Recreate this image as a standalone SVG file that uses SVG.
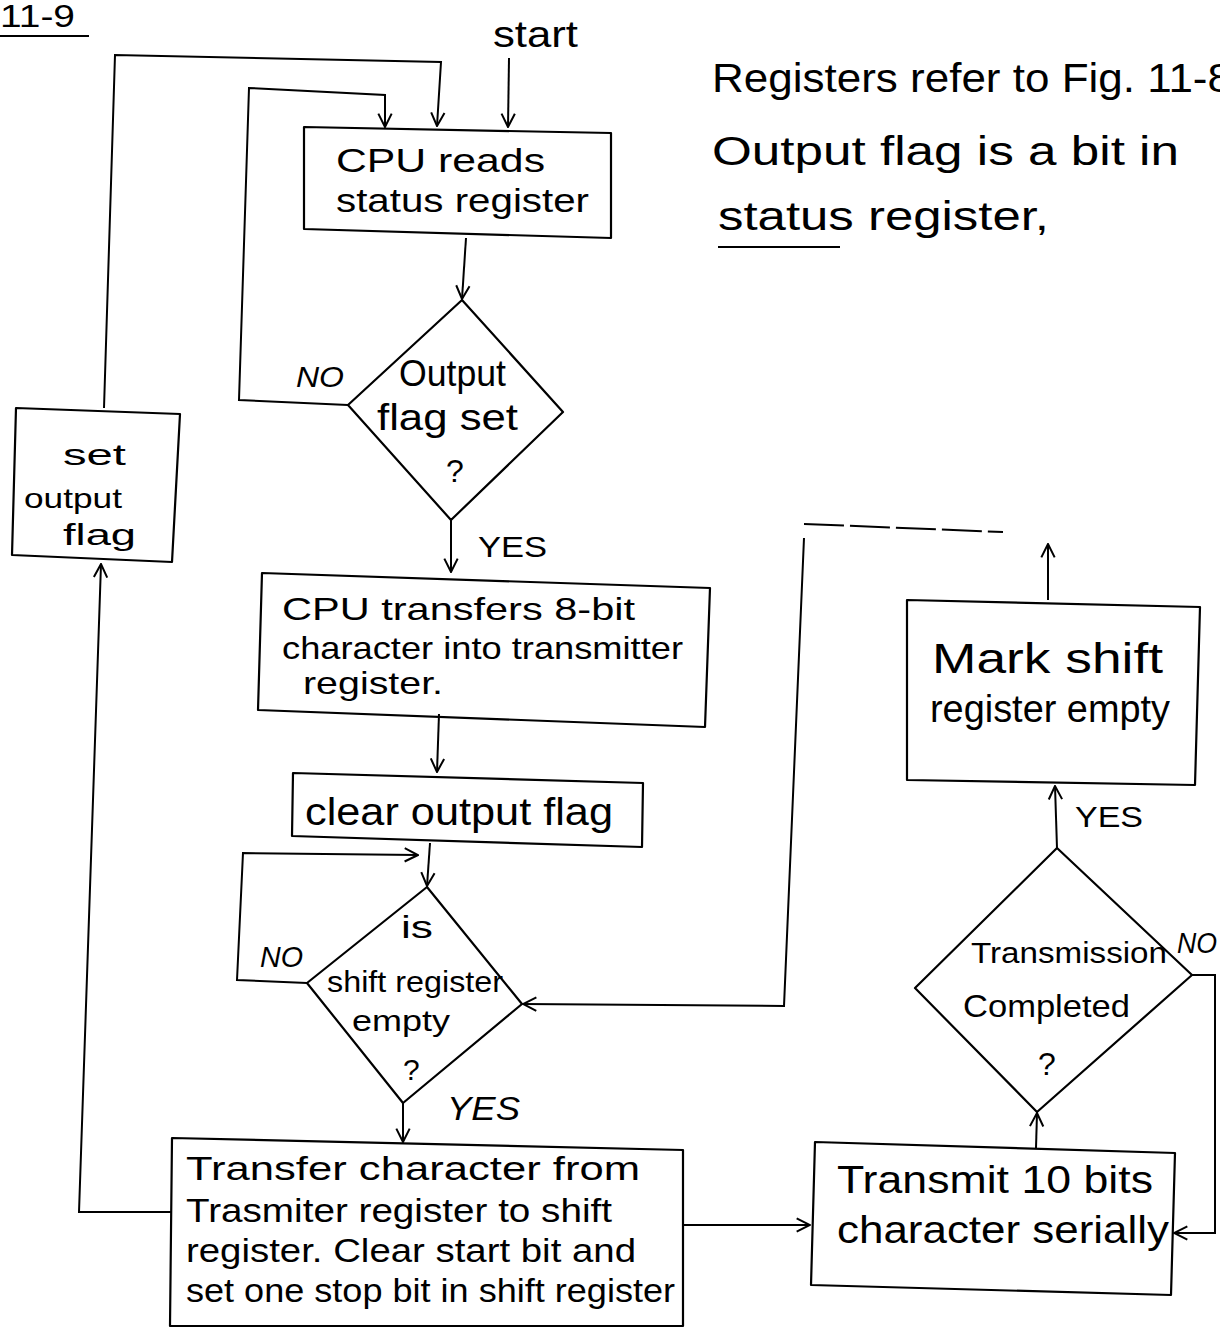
<svg xmlns="http://www.w3.org/2000/svg" width="1220" height="1329" viewBox="0 0 1220 1329">
<defs>
<style>
.box{fill:none;stroke:#000;stroke-width:2.2;stroke-linejoin:round}
.ln{fill:none;stroke:#000;stroke-width:2}
.dash{fill:none;stroke:#000;stroke-width:2;stroke-dasharray:40 6}
text{font-family:"Liberation Sans",Arial,sans-serif;fill:#000}
.t34{font-size:34px}
.t32{font-size:32px}
.lbl{font-size:29px;font-style:italic}
</style>
<marker id="ah" viewBox="0 0 12 12" refX="11" refY="6" markerWidth="16" markerHeight="16" markerUnits="userSpaceOnUse" orient="auto">
<path d="M1,1 L11,6 L1,11" fill="none" stroke="#000" stroke-width="1.5"/>
</marker>
</defs>
<rect width="1220" height="1329" fill="#fff"/>

<g id="title">
<text x="0" y="27" font-size="32" textLength="75" lengthAdjust="spacingAndGlyphs">11-9</text>
<line class="ln" x1="0" y1="36" x2="89" y2="36"/>
</g>

<g id="note">
<text x="712" y="92" font-size="40" textLength="520" lengthAdjust="spacingAndGlyphs">Registers refer to Fig. 11-8</text>
<text x="712" y="165" font-size="40" textLength="467" lengthAdjust="spacingAndGlyphs">Output flag is a bit in</text>
<text x="718" y="230" font-size="40" textLength="331" lengthAdjust="spacingAndGlyphs">status register,</text>
<line class="ln" x1="718" y1="247" x2="840" y2="247"/>
</g>

<g id="start">
<text x="493" y="47" font-size="36" textLength="85" lengthAdjust="spacingAndGlyphs">start</text>
</g>

<g id="cpu_reads">
<polygon class="box" points="304,127 611,133 611,238 304,229"/>
<text class="t34" x="336" y="172" textLength="209" lengthAdjust="spacingAndGlyphs">CPU reads</text>
<text class="t34" x="336" y="212" textLength="253" lengthAdjust="spacingAndGlyphs">status register</text>
</g>

<g id="output_flag_set">
<polygon class="box" points="462,300 563,412 451,520 348,405"/>
<text x="399" y="386" font-size="36" textLength="107" lengthAdjust="spacingAndGlyphs">Output</text>
<text x="377" y="430" font-size="36" textLength="141" lengthAdjust="spacingAndGlyphs">flag set</text>
<text x="446" y="482" font-size="32">?</text>
</g>

<g id="set_output_flag">
<polygon class="box" points="16,408 180,414 172,562 12,555"/>
<text x="63" y="465" font-size="30" textLength="63" lengthAdjust="spacingAndGlyphs">set</text>
<text x="24" y="508" font-size="28" textLength="98" lengthAdjust="spacingAndGlyphs">output</text>
<text x="63" y="545" font-size="30" textLength="73" lengthAdjust="spacingAndGlyphs">flag</text>
</g>

<g id="cpu_transfers">
<polygon class="box" points="262,573 710,588 705,727 258,710"/>
<text class="t32" x="282" y="620" textLength="353" lengthAdjust="spacingAndGlyphs">CPU transfers 8-bit</text>
<text class="t32" x="282" y="659" textLength="401" lengthAdjust="spacingAndGlyphs">character into transmitter</text>
<text class="t32" x="303" y="694" textLength="140" lengthAdjust="spacingAndGlyphs">register.</text>
</g>

<g id="clear_output_flag">
<polygon class="box" points="293,773 643,783 642,847 292,836"/>
<text x="305" y="825" font-size="38" textLength="308" lengthAdjust="spacingAndGlyphs">clear output flag</text>
</g>

<g id="shift_register_empty">
<polygon class="box" points="427,887 522,1004 403,1103 307,983"/>
<text x="401" y="938" font-size="32" textLength="32" lengthAdjust="spacingAndGlyphs">is</text>
<text x="327" y="992" font-size="30" textLength="176" lengthAdjust="spacingAndGlyphs">shift register</text>
<text x="352" y="1031" font-size="30" textLength="98" lengthAdjust="spacingAndGlyphs">empty</text>
<text x="403" y="1080" font-size="30">?</text>
</g>

<g id="transfer_character">
<polygon class="box" points="172,1138 683,1150 683,1326 170,1326"/>
<text class="t34" x="186" y="1180" textLength="454" lengthAdjust="spacingAndGlyphs">Transfer character from</text>
<text class="t34" x="186" y="1222" textLength="426" lengthAdjust="spacingAndGlyphs">Trasmiter register to shift</text>
<text class="t34" x="186" y="1262" textLength="450" lengthAdjust="spacingAndGlyphs">register. Clear start bit and</text>
<text class="t34" x="186" y="1302" textLength="489" lengthAdjust="spacingAndGlyphs">set one stop bit in shift register</text>
</g>

<g id="transmit_bits">
<polygon class="box" points="815,1142 1175,1153 1171,1295 811,1285"/>
<text x="837" y="1193" font-size="38" textLength="316" lengthAdjust="spacingAndGlyphs">Transmit 10 bits</text>
<text x="837" y="1243" font-size="38" textLength="332" lengthAdjust="spacingAndGlyphs">character serially</text>
</g>

<g id="transmission_completed">
<polygon class="box" points="1057,848 1192,975 1037,1112 915,988"/>
<text x="971" y="963" font-size="30" textLength="196" lengthAdjust="spacingAndGlyphs">Transmission</text>
<text x="963" y="1017" font-size="32" textLength="167" lengthAdjust="spacingAndGlyphs">Completed</text>
<text x="1038" y="1075" font-size="32">?</text>
</g>

<g id="mark_shift_register_empty">
<polygon class="box" points="907,600 1200,607 1195,785 907,780"/>
<text x="932" y="673" font-size="42" textLength="231" lengthAdjust="spacingAndGlyphs">Mark shift</text>
<text x="930" y="722" font-size="38" textLength="240" lengthAdjust="spacingAndGlyphs">register empty</text>
</g>

<g id="connectors">
<path class="ln" d="M509,58 L508,127" marker-end="url(#ah)"/>
<path class="ln" d="M104,408 L115,55 L441,62 L437,126" marker-end="url(#ah)"/>
<path class="ln" d="M348,405 L239,400 L249,88 L385,95 L385,127" marker-end="url(#ah)"/>
<path class="ln" d="M466,238 L462,299" marker-end="url(#ah)"/>
<path class="ln" d="M451,520 L451,572" marker-end="url(#ah)"/>
<path class="ln" d="M439,714 L437,772" marker-end="url(#ah)"/>
<path class="ln" d="M430,843 L427,886" marker-end="url(#ah)"/>
<path class="ln" d="M307,983 L237,980 L243,853 L418,855" marker-end="url(#ah)"/>
<path class="ln" d="M403,1103 L403,1142" marker-end="url(#ah)"/>
<path class="ln" d="M172,1212 L79,1212 L101,564" marker-end="url(#ah)"/>
<path class="ln" d="M683,1225 L810,1225" marker-end="url(#ah)"/>
<path class="ln" d="M1036,1148 L1037,1113" marker-end="url(#ah)"/>
<path class="ln" d="M1192,975 L1215,975 L1215,1233 L1174,1233" marker-end="url(#ah)"/>
<path class="ln" d="M1057,848 L1055,786" marker-end="url(#ah)"/>
<path class="ln" d="M1048,600 L1048,544" marker-end="url(#ah)"/>
<path class="dash" d="M804,524 L1003,532"/>
<path class="ln" d="M804,538 L784,1006 L523,1004" marker-end="url(#ah)"/>
<text class="lbl" x="296" y="387" textLength="48" lengthAdjust="spacingAndGlyphs">NO</text>
<text x="478" y="557" font-size="30" textLength="69" lengthAdjust="spacingAndGlyphs">YES</text>
<text class="lbl" x="260" y="967" textLength="43" lengthAdjust="spacingAndGlyphs">NO</text>
<text x="447" y="1120" font-size="34" font-style="italic" textLength="73" lengthAdjust="spacingAndGlyphs">YES</text>
<text class="lbl" x="1177" y="953" textLength="40" lengthAdjust="spacingAndGlyphs">NO</text>
<text x="1075" y="827" font-size="30" textLength="68" lengthAdjust="spacingAndGlyphs">YES</text>
</g>
</svg>
